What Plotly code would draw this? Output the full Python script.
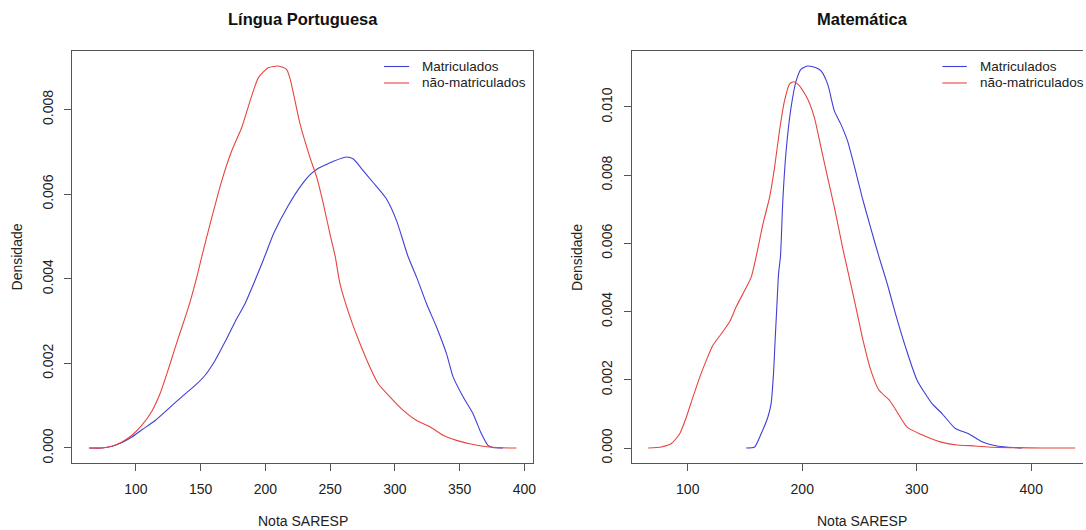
import plotly.graph_objects as go

# Língua Portuguesa: density of SARESP scores
lp_x_mat = [64.0, 73.8, 81.5, 89.2, 96.9, 104.6, 114.9, 125.2, 135.4, 145.7, 153.4, 161.1,
            168.8, 176.5, 184.2, 191.9, 198.3, 206.5, 217.2, 227.9, 234.5, 239.7,
            244.8, 252.5, 262.8, 267.9, 275.6, 283.3, 293.6, 301.3, 310.2, 316.7, 324.4,
            332.1, 339.8, 344.9, 352.6, 360.3, 366.7, 371.8, 375.7, 383.4]
lp_y_mat = [0.0, 0.0, 0.00004, 0.00013, 0.00026, 0.00043, 0.00065, 0.00093, 0.00121, 0.00148,
            0.00172, 0.00207, 0.00251, 0.00298, 0.00341, 0.00396, 0.00444, 0.00508, 0.00571,
            0.00622, 0.00646, 0.00659, 0.00667, 0.00678, 0.00688, 0.00683, 0.00655,
            0.00627, 0.00588, 0.00537, 0.00452, 0.00404, 0.00341, 0.00286, 0.00223, 0.00168,
            0.00121, 0.00081, 0.00034, 0.00006, 0.00001, 0.0]

lp_x_nao = [63.6, 73.8, 81.5, 89.2, 96.9, 104.6, 112.3, 118.8, 125.2, 132.9, 140.6, 147.0,
            150.8, 158.5, 166.2, 173.9, 181.6, 188.1, 194.5, 202.2, 209.9, 216.3, 219.1,
            226.8, 234.5, 239.7, 244.8, 249.9, 253.8, 257.6, 265.3, 273.0, 280.7, 287.1,
            296.1, 306.4, 316.7, 326.9, 337.2, 347.5, 357.7, 368.0, 378.3, 389.8, 393.8]
lp_y_nao = [0.0, 0.0, 0.00004, 0.00014, 0.00030, 0.00054, 0.00087, 0.00130, 0.00188, 0.00262,
            0.00333, 0.00404, 0.00452, 0.00544, 0.00631, 0.00702, 0.00757, 0.00820, 0.00875,
            0.00899, 0.00903, 0.00895, 0.00872, 0.00765, 0.00686, 0.00639, 0.00576, 0.00505,
            0.00454, 0.00388, 0.00310, 0.00247, 0.00191, 0.00152, 0.00121, 0.00089, 0.00065,
            0.00050, 0.00030, 0.00018, 0.00010, 0.00004, 0.00001, 0.0, 0.0]

# Matemática: density of SARESP scores
mt_x_mat = [151.0, 158.4, 164.1, 170.0, 172.8, 174.9, 176.3, 177.8, 179.3, 181.0, 183.0,
            185.9, 190.2, 194.6, 199.0, 204.8, 212.0, 216.4, 222.2, 228.1, 233.8, 239.6,
            246.6, 252.4, 259.7, 266.9, 274.2, 281.4, 290.2, 300.3, 313.4, 322.1, 333.7,
            345.3, 357.0, 371.4, 386.0, 392.0]
mt_y_mat = [0.0, 0.00003, 0.00042, 0.00091, 0.00130, 0.00218, 0.00316, 0.00414, 0.00511,
            0.00563, 0.00724, 0.00871, 0.00998, 0.01076, 0.01111, 0.01120, 0.01115, 0.01106,
            0.01067, 0.00988, 0.00949, 0.00900, 0.00812, 0.00734, 0.00646, 0.00562, 0.00482,
            0.00394, 0.00296, 0.00199, 0.00130, 0.00101, 0.00057, 0.00042, 0.00018, 0.00005,
            0.00001, 0.0]

mt_x_nao = [65.4, 77.0, 85.7, 93.0, 98.8, 104.6, 110.5, 116.2, 122.0, 129.3, 136.6, 142.3,
            149.7, 155.4, 159.8, 165.6, 171.4, 175.8, 180.1, 184.5, 188.9, 192.6, 197.6,
            204.8, 210.6, 216.4, 222.2, 228.1, 235.3, 238.6, 246.4, 252.8, 259.7, 266.9,
            275.3, 281.0, 291.6, 303.5, 320.4, 335.5, 351.1, 366.0, 386.0, 410.0, 438.4]
mt_y_nao = [0.0, 0.00003, 0.00013, 0.00042, 0.00091, 0.00150, 0.00208, 0.00257, 0.00301,
            0.00335, 0.00370, 0.00414, 0.00462, 0.00501, 0.00562, 0.00656, 0.00734, 0.00822,
            0.00930, 0.01018, 0.01067, 0.01074, 0.01062, 0.01023, 0.00969, 0.00881, 0.00793,
            0.00705, 0.00587, 0.00537, 0.00420, 0.00320, 0.00230, 0.00170, 0.00143, 0.00116,
            0.00061, 0.00040, 0.00018, 0.00009, 0.00006, 0.00002, 0.00001, 0.0, 0.0]

lp_xticks = [100, 150, 200, 250, 300, 350, 400]
mt_xticks = [100, 200, 300, 400]
yticks = [0.000, 0.002, 0.004, 0.006, 0.008, 0.010]

series_names = ["Matriculados", "não-matriculados"]
titles = ["Língua Portuguesa", "Matemática"]
x_label = "Nota SARESP"
y_label = "Densidade"

BLUE = "#3f3fd6"
RED = "#e6453f"
AXIS = "#555555"
FONT = "Liberation Sans, Arial, Helvetica, sans-serif"

W, H = 1086, 530

def px(x):
    return x / W

def py(y):
    return 1 - y / H

fig = go.Figure()

panels = [
    (lp_x_mat, lp_y_mat, lp_x_nao, lp_y_nao, "x", "y"),
    (mt_x_mat, mt_y_mat, mt_x_nao, mt_y_nao, "x2", "y2"),
]
for xm, ym, xn, yn, xa, ya in panels:
    fig.add_trace(go.Scatter(x=xm, y=ym, mode="lines", name=series_names[0],
                             line=dict(color=BLUE, width=1.1, shape="spline", smoothing=0.6),
                             xaxis=xa, yaxis=ya, showlegend=False, hoverinfo="skip"))
    fig.add_trace(go.Scatter(x=xn, y=yn, mode="lines", name=series_names[1],
                             line=dict(color=RED, width=1.1, shape="spline", smoothing=0.6),
                             xaxis=xa, yaxis=ya, showlegend=False, hoverinfo="skip"))

axis_common = dict(showgrid=False, zeroline=False, showline=True, linecolor=AXIS,
                   linewidth=1, ticks="outside", ticklen=7, tickcolor=AXIS,
                   tickfont=dict(family=FONT, size=14, color="#222222"))

left_dom = [px(72.3), px(534.6)]
right_dom = [px(633.4), 1.0]
y_dom = [py(463), py(51)]

fig.update_layout(
    width=W, height=H,
    margin=dict(l=0, r=0, t=0, b=0),
    paper_bgcolor="white", plot_bgcolor="white",
    font=dict(family=FONT, size=14, color="#222222"),
    xaxis=dict(domain=left_dom, range=[50.7, 406.7], tickvals=lp_xticks,
               mirror=True, anchor="y", ticklabelstandoff=6, **axis_common),
    yaxis=dict(domain=y_dom, range=[-0.000355, 0.009385], tickvals=yticks[:5],
               tickformat=".3f", tickangle=-90, mirror=True, anchor="x",
               ticklabelstandoff=6, **axis_common),
    xaxis2=dict(domain=right_dom, range=[51.0, 445.2], tickvals=mt_xticks,
                mirror=True, anchor="y2", ticklabelstandoff=6, **axis_common),
    yaxis2=dict(domain=y_dom, range=[-0.00044, 0.011642], tickvals=yticks,
                tickformat=".3f", tickangle=-90, mirror=False, anchor="x2",
                ticklabelstandoff=6, **axis_common),
)

annotations = []
# panel titles
for cx, t in [((72.3 + 534.6) / 2, titles[0]), (864.4, titles[1])]:
    annotations.append(dict(x=px(cx), y=py(19), xref="paper", yref="paper", text=f"<b>{t}</b>",
                            showarrow=False, xanchor="center", yanchor="middle",
                            font=dict(family=FONT, size=16.5, color="#111111")))
# axis titles
for cx in [(72.3 + 534.6) / 2, 864.4]:
    annotations.append(dict(x=px(cx), y=py(521), xref="paper", yref="paper", text=x_label,
                            showarrow=False, xanchor="center", yanchor="middle",
                            font=dict(family=FONT, size=14, color="#222222")))
for cx in [17.5, 578.5]:
    annotations.append(dict(x=px(cx), y=py(257), xref="paper", yref="paper", text=y_label,
                            textangle=-90, showarrow=False, xanchor="center", yanchor="middle",
                            font=dict(family=FONT, size=14, color="#222222")))

# legends
shapes = []
for lx0, lx1, tx in [(385.1, 410.2, 421.6), (945.0, 969.5, 980.5)]:
    for row_y, name, col in [(66.5, series_names[0], BLUE), (83.0, series_names[1], RED)]:
        shapes.append(dict(type="line", xref="paper", yref="paper",
                           x0=px(lx0), x1=px(lx1), y0=py(row_y), y1=py(row_y),
                           line=dict(color=col, width=1.1)))
        annotations.append(dict(x=px(tx), y=py(row_y), xref="paper", yref="paper", text=name,
                                showarrow=False, xanchor="left", yanchor="middle",
                                font=dict(family=FONT, size=13.5, color="#222222")))

fig.update_layout(annotations=annotations, shapes=shapes)

fig.write_html("out.html")
